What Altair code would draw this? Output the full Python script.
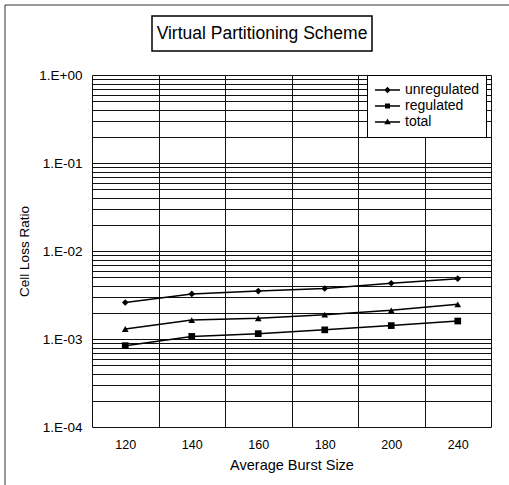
import json
import altair as alt
import pandas as pd

# ---- data -------------------------------------------------------------
burst_sizes = ["120", "140", "160", "180", "200", "240"]
series_names = ["unregulated", "regulated", "total"]
unregulated = [2.6e-3, 3.25e-3, 3.5e-3, 3.75e-3, 4.3e-3, 4.85e-3]
regulated = [8.4e-4, 1.07e-3, 1.15e-3, 1.27e-3, 1.42e-3, 1.6e-3]
total = [1.3e-3, 1.64e-3, 1.72e-3, 1.89e-3, 2.12e-3, 2.48e-3]
y_tick_labels = ["1.E-04", "1.E-03", "1.E-02", "1.E-01", "1.E+00"]
chart_title = "Virtual Partitioning Scheme"

rows = []
for name, vals in zip(series_names, [unregulated, regulated, total]):
    for b, v in zip(burst_sizes, vals):
        rows.append({"burst": b, "ratio": v, "series": name})
df = pd.DataFrame(rows)

# log grid: every 1..9 x 10^k between 1e-4 and 1
y_grid = [m * 10.0 ** e for e in range(-4, 0) for m in range(1, 10)] + [1.0]

FONT = "Liberation Sans"
W, H = 399, 352
PAD = {"left": 92, "top": 75, "right": 18, "bottom": 58}

label_expr = (
    "abs(log(datum.value)/LN10 - round(log(datum.value)/LN10)) < 0.001 ? "
    + json.dumps(y_tick_labels)
    + "[round(log(datum.value)/LN10) + 4] : ''"
)

x_enc = alt.X(
    "burst:O",
    sort=burst_sizes,
    scale=alt.Scale(type="band", domain=burst_sizes, paddingInner=0, paddingOuter=0),
    bandPosition=0.5,
    axis=alt.Axis(
        title="Average Burst Size",
        tickBand="extent",
        grid=True,
        gridColor="#111",
        gridWidth=1,
        ticks=False,
        domain=False,
        labelAngle=0,
        labelFont=FONT,
        labelFontSize=12.5,
        labelColor="black",
        labelPadding=11,
        titleFont=FONT,
        titleFontSize=14.5,
        titleFontWeight="normal",
        titleColor="black",
        titlePadding=8,
    ),
)
y_enc = alt.Y(
    "ratio:Q",
    scale=alt.Scale(type="log", domain=[1e-4, 1], nice=False),
    axis=alt.Axis(
        title="Cell Loss Ratio",
        values=y_grid,
        labelExpr=label_expr,
        grid=True,
        gridColor="#111",
        gridWidth=1,
        ticks=False,
        domain=False,
        labelFont=FONT,
        labelFontSize=13.5,
        labelColor="black",
        labelPadding=10,
        labelOverlap=False,
        titleFont=FONT,
        titleFontSize=13.5,
        titleFontWeight="normal",
        titleColor="black",
        titlePadding=7,
    ),
)

base = alt.Chart(df)

lines = base.mark_line(color="black", strokeWidth=1.5).encode(
    x=x_enc, y=y_enc, detail="series:N"
)

points = base.mark_point(filled=True, color="black", size=45, opacity=1).encode(
    x=x_enc,
    y=y_enc,
    shape=alt.Shape(
        "series:N",
        scale=alt.Scale(domain=series_names, range=["diamond", "square", "triangle-up"]),
        legend=None,
    ),
)

# legend symbols: a thin bar (the line) with the series marker in its middle
bar = "M-1,-0.055L1,-0.055L1,0.055L-1,0.055Z"
legend_paths = [
    bar + "M0,-0.26L0.26,0L0,0.26L-0.26,0Z",
    bar + "M-0.2,-0.2L0.2,-0.2L0.2,0.2L-0.2,0.2Z",
    bar + "M0,-0.28L0.26,0.18L-0.26,0.18Z",
]
legend_layer = (
    base.mark_point(filled=True, color="black", size=625, opacity=1)
    .encode(
        x=x_enc,
        y=y_enc,
        shape=alt.Shape(
            "series:N",
            scale=alt.Scale(domain=series_names, range=legend_paths),
            legend=alt.Legend(
                title=None,
                orient="none",
                legendX=275,
                legendY=0,
                padding=7,
                strokeColor="black",
                fillColor="white",
                symbolSize=625,
                symbolFillColor="black",
                symbolOpacity=1,
                clipHeight=16,
                labelFont=FONT,
                labelFontSize=14,
                labelColor="black",
                labelOffset=4,
                rowPadding=0,
            ),
        ),
    )
    .transform_filter("false")
)

one = pd.DataFrame({"k": [0]})

# title box above the plot
title_box = alt.Chart(one).mark_rect(fill="white", stroke="black", strokeWidth=1.5).encode(
    x=alt.value(60), x2=alt.value(280), y=alt.value(-59), y2=alt.value(-24)
)
title_text = alt.Chart(one).mark_text(
    font=FONT, fontSize=17.5, color="black", align="center", baseline="middle"
).encode(x=alt.value(170), y=alt.value(-41), text=alt.value(chart_title))

# outer frame (top and left edges)
frame_top = alt.Chart(one).mark_rule(color="#333", strokeWidth=1).encode(
    x=alt.value(-87), x2=alt.value(509 - 92), y=alt.value(-70)
)
frame_left = alt.Chart(one).mark_rule(color="#333", strokeWidth=1).encode(
    x=alt.value(-87), y=alt.value(-70), y2=alt.value(485 - 75)
)

chart = (
    alt.layer(frame_top, frame_left, title_box, title_text, lines, points, legend_layer)
    .resolve_scale(shape="independent")
    .properties(
        width=W,
        height=H,
        padding=PAD,
        autosize=alt.AutoSizeParams(type="none"),
    )
    .configure_view(stroke="black", strokeWidth=1.5)
    .configure(background="white")
)

chart.save("out.html", embed_options={"renderer": "svg", "actions": False})
